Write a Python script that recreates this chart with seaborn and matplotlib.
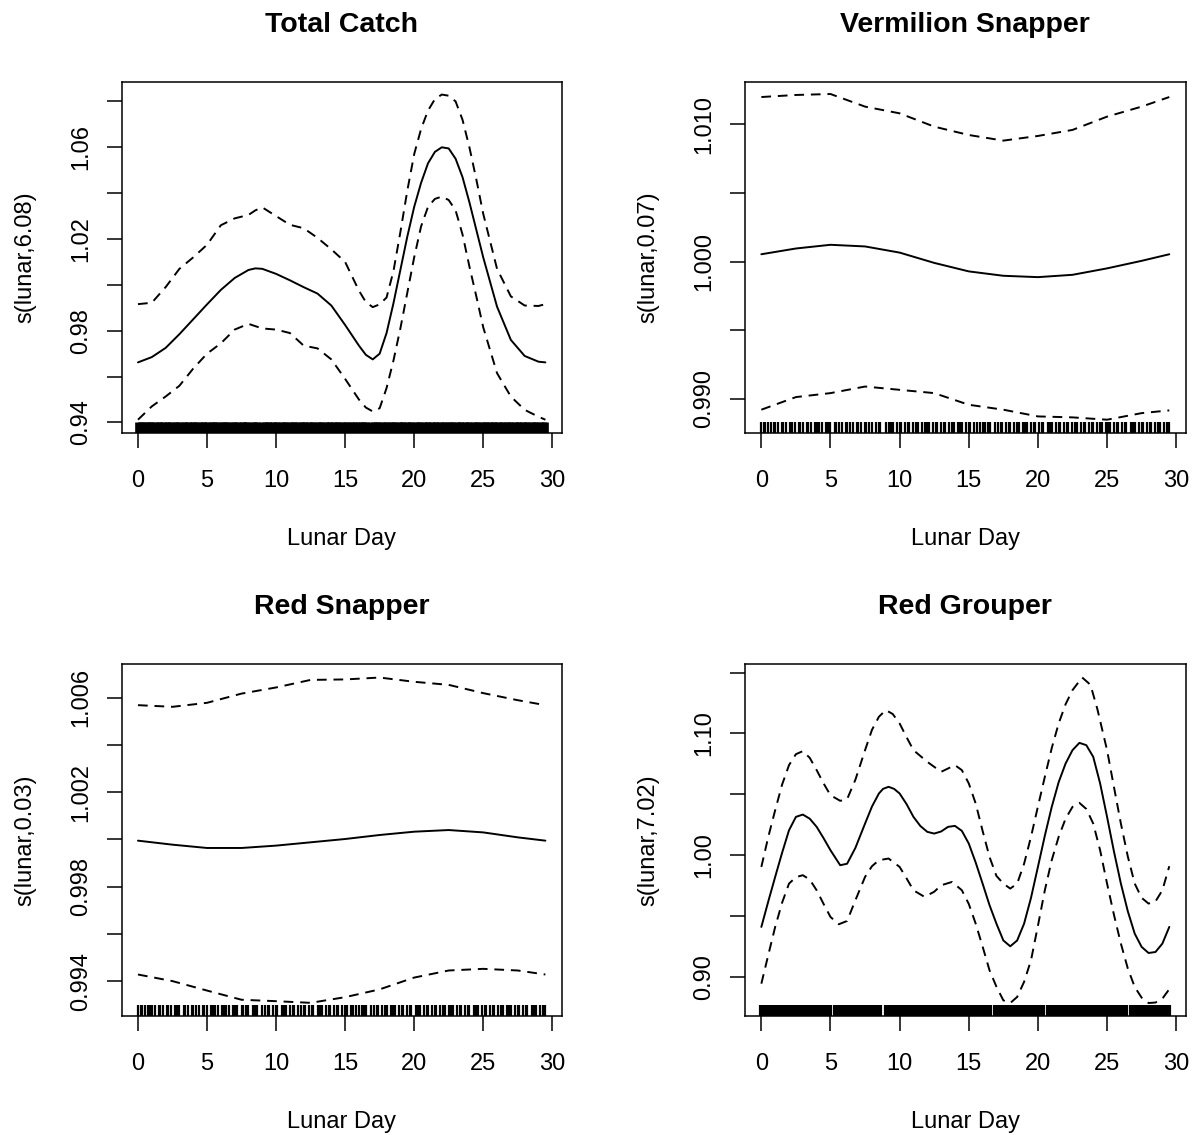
import numpy as np
import pandas as pd
import seaborn as sns
import matplotlib
matplotlib.use("Agg")
import matplotlib.pyplot as plt

# lunar day of each set (rug)
lunar_obs = [0.0, 0.2, 0.3, 0.5, 0.7, 0.9, 1.0, 1.2, 1.5, 1.6, 1.8, 2.1, 2.2, 2.4, 2.7, 2.8,
             3.0, 3.3, 3.4, 3.6, 3.9, 4.0, 4.2, 4.4, 4.7, 4.8, 5.0, 5.3, 5.4, 5.6, 5.8, 6.1,
             6.2, 6.4, 6.6, 6.9, 7.0, 7.2, 7.5, 7.6, 7.8, 8.0, 8.3, 8.5, 8.6, 9.0, 9.2, 9.4,
             9.5, 9.8, 10.0, 10.1, 10.4, 10.6, 10.7, 11.0, 11.2, 11.3, 11.6, 11.8, 12.0, 12.1,
             12.4, 12.6, 12.7, 13.0, 13.2, 13.3, 13.6, 13.8, 13.9, 14.2, 14.4, 14.5, 14.8, 15.0,
             15.1, 15.4, 15.6, 15.8, 16.0, 16.2, 16.4, 16.5, 16.9, 17.1, 17.3, 17.4, 17.7, 17.9,
             18.0, 18.3, 18.5, 18.6, 18.9, 19.1, 19.2, 19.5, 19.7, 19.8, 20.1, 20.3, 20.4, 20.7,
             20.9, 21.0, 21.3, 21.5, 21.6, 21.9, 22.1, 22.2, 22.5, 22.7, 22.8, 23.1, 23.3, 23.4,
             23.7, 23.9, 24.0, 24.3, 24.5, 24.6, 24.9, 25.1, 25.2, 25.5, 25.7, 25.8, 26.1, 26.3,
             26.4, 26.7, 26.9, 27.0, 27.3, 27.5, 27.6, 27.9, 28.1, 28.2, 28.5, 28.7, 28.8, 29.1,
             29.3, 29.5]

# Total Catch
tc_x = [0, 1, 2, 3, 4, 5, 6, 7, 8, 8.5, 9, 10, 11, 12, 13, 14, 15, 16, 16.5, 17, 17.5, 18,
        18.5, 19, 19.5, 20, 20.5, 21, 21.5, 22, 22.5, 23, 23.5, 24, 24.5, 25, 26, 27, 28, 29, 29.5]
tc_fit = [0.9662, 0.9685, 0.9725, 0.9785, 0.9850, 0.9915, 0.9978, 1.0030, 1.0065, 1.0072, 1.0070,
          1.0048, 1.0020, 0.9990, 0.9962, 0.9910, 0.9825, 0.9735, 0.9695, 0.9675, 0.9700, 0.9790,
          0.9920, 1.0065, 1.0210, 1.0340, 1.0445, 1.0530, 1.0580, 1.0600, 1.0595, 1.0550, 1.0470,
          1.0360, 1.0240, 1.0120, 0.9905, 0.9760, 0.9690, 0.9665, 0.9662]
tc_up = [0.9916, 0.9922, 0.9990, 1.0070, 1.0120, 1.0175, 1.0260, 1.0290, 1.0305, 1.0325, 1.0338,
         1.0300, 1.0262, 1.0247, 1.0205, 1.0155, 1.0100, 0.9975, 0.9925, 0.9903, 0.9915, 0.9945,
         1.0060, 1.0230, 1.0410, 1.0570, 1.0680, 1.0760, 1.0810, 1.0830, 1.0825, 1.0800, 1.0720,
         1.0600, 1.0460, 1.0310, 1.0070, 0.9950, 0.9910, 0.9908, 0.9916]
tc_lo = [0.9412, 0.9470, 0.9513, 0.9560, 0.9635, 0.9700, 0.9745, 0.9805, 0.9830, 0.9820, 0.9810,
         0.9805, 0.9790, 0.9735, 0.9723, 0.9675, 0.9590, 0.9500, 0.9465, 0.9448, 0.9462, 0.9550,
         0.9670, 0.9810, 0.9965, 1.0120, 1.0255, 1.0340, 1.0375, 1.0385, 1.0370, 1.0325, 1.0220,
         1.0080, 0.9950, 0.9815, 0.9615, 0.9513, 0.9455, 0.9425, 0.9412]

# Vermilion Snapper
vs_x = [0, 2.5, 5, 7.5, 10, 12.5, 15, 17.5, 20, 22.5, 25, 27.5, 29.5]
vs_fit = [1.00053, 1.00095, 1.00122, 1.00110, 1.00065, 0.99990, 0.99928, 0.99896, 0.99886,
          0.99903, 0.99950, 1.00005, 1.00053]
vs_up = [1.01200, 1.01215, 1.01222, 1.01130, 1.01081, 1.00984, 1.00923, 1.00882, 1.00916,
         1.00960, 1.01057, 1.01130, 1.01200]
vs_lo = [0.98919, 0.99011, 0.99040, 0.99088, 0.99064, 0.99040, 0.98955, 0.98919, 0.98870,
         0.98863, 0.98846, 0.98894, 0.98914]

# Red Snapper
rs_x = [0, 2.5, 5, 7.5, 10, 12.5, 15, 17.5, 20, 22.5, 25, 27.5, 29.5]
rs_fit = [0.99995, 0.99978, 0.99964, 0.99964, 0.99974, 0.99988, 1.00002, 1.00019, 1.00033,
          1.00040, 1.00030, 1.00009, 0.99995]
rs_up = [1.00569, 1.00562, 1.00579, 1.00618, 1.00644, 1.00676, 1.00678, 1.00686, 1.00668,
         1.00655, 1.00620, 1.00590, 1.00569]
rs_lo = [0.99428, 0.99400, 0.99360, 0.99321, 0.99315, 0.99308, 0.99332, 0.99365, 0.99415,
         0.99445, 0.99452, 0.99445, 0.99428]

# Red Grouper
rg_x = [0, 0.5, 1, 1.5, 2, 2.5, 3, 3.5, 4, 4.5, 5, 5.7, 6.2, 6.8, 7.5, 8, 8.5, 8.8, 9.2, 9.6,
        10, 10.5, 11, 11.5, 12, 12.5, 13, 13.5, 14, 14.5, 15, 15.5, 16, 16.5, 17, 17.5, 18,
        18.5, 19, 19.5, 20, 20.5, 21, 21.5, 22, 22.5, 23, 23.5, 24, 24.5, 25, 25.5, 26, 26.5,
        27, 27.5, 28, 28.5, 29, 29.5]
rg_fit = [0.9411, 0.9620, 0.9822, 1.0020, 1.0205, 1.0315, 1.0334, 1.0300, 1.0233, 1.0140,
          1.0041, 0.9918, 0.9930, 1.0060, 1.0260, 1.0400, 1.0507, 1.0545, 1.0562, 1.0545,
          1.0507, 1.0420, 1.0315, 1.0240, 1.0192, 1.0178, 1.0195, 1.0233, 1.0241, 1.0200,
          1.0096, 0.9940, 0.9767, 0.9590, 0.9438, 0.9300, 0.9252, 0.9300, 0.9438, 0.9650,
          0.9904, 1.0160, 1.0397, 1.0600, 1.0753, 1.0863, 1.0923, 1.0904, 1.0808, 1.0589,
          1.0315, 1.0030, 0.9767, 0.9540, 0.9356, 0.9247, 0.9197, 0.9205, 0.9274, 0.9411]
rg_up_x = [0, 0.5, 1, 1.5, 2, 2.5, 3, 3.5, 4, 4.5, 5, 5.7, 6.2, 6.8, 7.5, 8, 8.5, 9, 9.5, 10,
           10.5, 11, 12, 13, 14, 14.5, 15, 15.5, 16, 16.5, 17, 17.5, 18, 18.5, 19, 19.5, 20,
           20.5, 21, 21.5, 22, 22.5, 23.2, 23.8, 24.3, 25, 25.5, 26, 26.5, 27, 27.5, 28, 28.5,
           29, 29.5]
rg_up = [0.9904, 1.0150, 1.0370, 1.0580, 1.0740, 1.0830, 1.0855, 1.0800, 1.0699, 1.0590,
         1.0493, 1.0447, 1.0460, 1.0620, 1.0863, 1.1030, 1.1137, 1.1192, 1.1160, 1.1082,
         1.0970, 1.0863, 1.0767, 1.0685, 1.0740, 1.0699, 1.0590, 1.0425, 1.0200, 0.9986,
         0.9830, 0.9767, 0.9726, 0.9767, 0.9930, 1.0151, 1.0400, 1.0644, 1.0880, 1.1082,
         1.1240, 1.1356, 1.1460, 1.1400, 1.1200, 1.0863, 1.0560, 1.0260, 0.9990, 0.9767,
         0.9650, 0.9603, 0.9620, 0.9712, 0.9910]
rg_lo_x = [0, 0.5, 1, 1.5, 2, 2.5, 3, 3.5, 4, 4.5, 5, 5.6, 6.2, 6.8, 7.5, 8, 8.5, 9.2, 10,
           10.5, 11, 11.8, 12.5, 13, 13.8, 14.5, 15, 15.5, 16, 16.5, 17, 17.5, 18, 18.5, 19,
           19.5, 20, 20.5, 21, 21.5, 22, 22.5, 23, 23.5, 24, 24.5, 25, 25.5, 26, 26.5, 27,
           27.5, 28, 28.5, 29, 29.5]
rg_lo = [0.8945, 0.9180, 0.9411, 0.9610, 0.9767, 0.9820, 0.9836, 0.9800, 0.9712, 0.9600,
         0.9493, 0.9433, 0.9460, 0.9630, 0.9822, 0.9910, 0.9959, 0.9973, 0.9904, 0.9810,
         0.9712, 0.9658, 0.9700, 0.9753, 0.9781, 0.9712, 0.9600, 0.9438, 0.9250, 0.9055,
         0.8920, 0.8808, 0.8786, 0.8836, 0.8960, 0.9137, 0.9420, 0.9712, 0.9960, 1.0151,
         1.0300, 1.0397, 1.0430, 1.0380, 1.0260, 1.0040, 0.9767, 0.9510, 0.9274, 0.9070,
         0.8918, 0.8830, 0.8786, 0.8790, 0.8822, 0.8900]

titles = ["Total Catch", "Vermilion Snapper", "Red Snapper", "Red Grouper"]
ylabels = ["s(lunar,6.08)", "s(lunar,0.07)", "s(lunar,0.03)", "s(lunar,7.02)"]
xlabel = "Lunar Day"
x_ticks = [0, 5, 10, 15, 20, 25, 30]
y_ticks = [
    [0.94, 0.96, 0.98, 1.00, 1.02, 1.04, 1.06, 1.08],
    [0.990, 0.995, 1.000, 1.005, 1.010],
    [0.994, 0.996, 0.998, 1.000, 1.002, 1.004, 1.006],
    [0.90, 0.95, 1.00, 1.05, 1.10, 1.15],
]
y_ticklabels = [
    ["0.94", "", "0.98", "", "1.02", "", "1.06", ""],
    ["0.990", "", "1.000", "", "1.010"],
    ["0.994", "", "0.998", "", "1.002", "", "1.006"],
    ["0.90", "", "1.00", "", "1.10", ""],
]
y_lims = [(0.9354, 1.0885), (0.98749, 1.0131), (0.99252, 1.00743), (0.8679, 1.157)]

panels = [
    (tc_x, tc_fit, tc_x, tc_up, tc_x, tc_lo),
    (vs_x, vs_fit, vs_x, vs_up, vs_x, vs_lo),
    (rs_x, rs_fit, rs_x, rs_up, rs_x, rs_lo),
    (rg_x, rg_fit, rg_up_x, rg_up, rg_lo_x, rg_lo),
]
rug_lw = [4.8, 1.6, 1.6, 3.0]

sns.set_theme(style="ticks")
plt.rcParams['font.family'] = ['Liberation Sans', 'DejaVu Sans']
plt.rcParams['text.color'] = 'black'
plt.rcParams['axes.labelcolor'] = 'black'
plt.rcParams['axes.edgecolor'] = 'black'
plt.rcParams['axes.linewidth'] = 1.1
plt.rcParams['xtick.color'] = 'black'
plt.rcParams['ytick.color'] = 'black'
plt.rcParams['xtick.labelcolor'] = 'black'
plt.rcParams['ytick.labelcolor'] = 'black'

fig = plt.figure(figsize=(11.93, 11.35), dpi=100)
boxes = [
    [0.1020, 0.6185, 0.3688, 0.3093],
    [0.6245, 0.6185, 0.3693, 0.3093],
    [0.1020, 0.1048, 0.3688, 0.3101],
    [0.6245, 0.1048, 0.3693, 0.3101],
]

for i, box in enumerate(boxes):
    ax = fig.add_axes(box)
    fx, fy, ux, uy, lx, ly = panels[i]
    sns.lineplot(x=fx, y=fy, ax=ax, color='black', lw=1.4)
    sns.lineplot(x=ux, y=uy, ax=ax, color='black', lw=1.4, linestyle=(0, (5, 3.5)))
    sns.lineplot(x=lx, y=ly, ax=ax, color='black', lw=1.4, linestyle=(0, (5, 3.5)))
    sns.rugplot(x=lunar_obs, ax=ax, height=0.03, color='black', linewidth=rug_lw[i],
                expand_margins=False)
    ax.set_xlim(-1.18, 30.68)
    ax.set_ylim(*y_lims[i])
    ax.set_xticks(x_ticks)
    ax.set_xticklabels([str(t) for t in x_ticks])
    ax.set_yticks(y_ticks[i])
    ax.set_yticklabels(y_ticklabels[i])
    plt.setp(ax.get_yticklabels(), rotation=90, va='center')
    ax.tick_params(length=10.5, width=1.1, labelsize=17, pad=11)
    ax.tick_params(axis='x', pad=16)
    ax.set_title(titles[i], fontsize=20.5, fontweight='bold', pad=36)
    ax.set_xlabel(xlabel, fontsize=17, labelpad=26)
    ax.set_ylabel(ylabels[i], fontsize=17, labelpad=24)
    for s in ax.spines.values():
        s.set_visible(True)

fig.savefig("out.png", dpi=100)
